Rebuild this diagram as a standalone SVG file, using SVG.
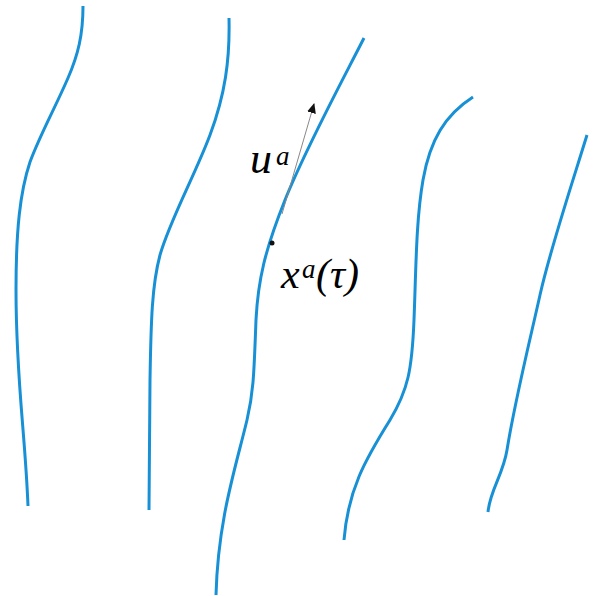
<svg xmlns="http://www.w3.org/2000/svg" width="593" height="596" viewBox="0 0 593 596">
<defs>
<marker id="ah" markerWidth="10" markerHeight="10" refX="9" refY="5" orient="auto" markerUnits="userSpaceOnUse">
<path d="M0,0.5 L10,5 L0,9.5 Z" fill="#111"/>
</marker>
</defs>
<rect width="593" height="596" fill="#fff"/>
<g id="worldlines" fill="none" stroke="#1890d5" stroke-width="3">
<path id="w1" d="M83,6 C83,35 78,55 68,78 C55,108 40,135 30,162 C20,192 16,230 16,290 C16,380 25,430 28,506"/>
<path id="w2" d="M229,18 C230,60 225,95 210,135 C195,175 170,220 160,255 C152,285 151,320 150,380 C150,430 149,470 149,510"/>
<path id="w3" d="M364,38 C340,85 305,150 285,200 C265,250 258,280 256,320 C254,370 254,390 247,420 C235,470 218,520 216,595"/>
<path id="w4" d="M473,97 C445,115 430,140 423,180 C416,220 416,270 414,320 C412,370 408,390 390,420 C365,460 348,490 344,540"/>
<path id="w5" d="M587,135 C570,190 550,250 540,295 C530,340 515,400 507,450 C503,475 490,490 488,512"/>
</g>
<g id="connectors">
<line x1="282" y1="214" x2="314" y2="104" stroke="#888" stroke-width="1" marker-end="url(#ah)"/>
</g>
<g id="point">
<circle cx="272" cy="243" r="2.5" fill="#111"/>
</g>
<g id="label-u" font-family="Liberation Serif" font-style="italic">
<text x="250" y="173" font-size="44">u</text>
<text x="276" y="165" font-size="27">a</text>
</g>
<g id="label-x" font-family="Liberation Serif" font-style="italic">
<text x="281" y="288" font-size="42">x</text>
<text x="302" y="278" font-size="27">a</text>
<text x="316" y="288" font-size="42">(τ)</text>
</g>
</svg>
